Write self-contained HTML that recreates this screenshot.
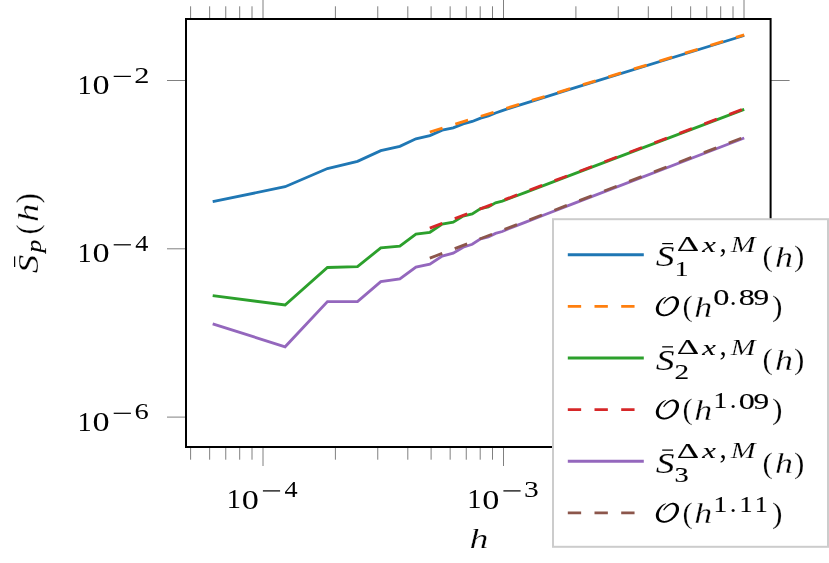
<!DOCTYPE html>
<html><head><meta charset="utf-8"><title>chart</title>
<style>
html,body{margin:0;padding:0;background:#fff;}
body{width:829px;height:563px;overflow:hidden;font-family:"Liberation Serif",serif;}
svg{display:block;will-change:transform;}
svg text{font-family:"Liberation Serif",serif;}
</style></head><body>
<svg width="829" height="563" viewBox="0 0 829 563">
<rect x="0" y="0" width="829" height="563" fill="#ffffff"/>
<path d="M190.60 19.0 V6.30 M190.60 447.0 V459.70 M209.65 19.0 V6.30 M209.65 447.0 V459.70 M225.75 19.0 V6.30 M225.75 447.0 V459.70 M239.69 19.0 V6.30 M239.69 447.0 V459.70 M252.00 19.0 V6.30 M252.00 447.0 V459.70 M263.00 19.0 V0.00 M263.00 447.0 V466.00 M335.40 19.0 V6.30 M335.40 447.0 V459.70 M377.75 19.0 V6.30 M377.75 447.0 V459.70 M407.80 19.0 V6.30 M407.80 447.0 V459.70 M431.10 19.0 V6.30 M431.10 447.0 V459.70 M450.15 19.0 V6.30 M450.15 447.0 V459.70 M466.25 19.0 V6.30 M466.25 447.0 V459.70 M480.19 19.0 V6.30 M480.19 447.0 V459.70 M492.50 19.0 V6.30 M492.50 447.0 V459.70 M503.50 19.0 V0.00 M503.50 447.0 V466.00 M575.90 19.0 V6.30 M575.90 447.0 V459.70 M618.25 19.0 V6.30 M618.25 447.0 V459.70 M648.30 19.0 V6.30 M648.30 447.0 V459.70 M671.60 19.0 V6.30 M671.60 447.0 V459.70 M690.65 19.0 V6.30 M690.65 447.0 V459.70 M706.75 19.0 V6.30 M706.75 447.0 V459.70 M720.69 19.0 V6.30 M720.69 447.0 V459.70 M733.00 19.0 V6.30 M733.00 447.0 V459.70 M744.00 19.0 V0.00 M744.00 447.0 V466.00 M186.0 80.50 H167.00 M770.6 80.50 H789.60 M186.0 248.80 H167.00 M770.6 248.80 H789.60 M186.0 417.10 H167.00 M770.6 417.10 H789.60" stroke="#808080" stroke-width="1" fill="none"/>
<path d="M212.70 201.60 L285.10 186.70 L327.45 168.50 L357.50 161.30 L380.80 150.70 L399.85 146.30 L415.95 138.80 L429.89 135.60 L442.20 130.20 L453.20 127.80 L463.15 123.90 L472.24 121.50 L480.60 118.10 L488.34 115.90 L495.55 112.98 L502.29 110.56 L514.59 106.58 L535.55 100.03 L567.95 89.98 L744.20 35.50" stroke="#1f77b4" stroke-width="2.85" fill="none" stroke-linejoin="miter" stroke-miterlimit="10"/>
<path d="M212.70 295.60 L285.10 305.00 L327.45 267.50 L357.50 266.60 L380.80 247.90 L399.85 246.20 L415.95 234.20 L429.89 232.30 L442.20 224.10 L453.20 222.20 L463.15 216.00 L472.24 213.90 L480.60 208.50 L488.34 207.00 L495.55 202.80 L502.29 201.20 L508.62 198.78 L514.59 196.51 L525.60 192.32 L544.64 185.09 L574.69 173.68 L744.20 109.30" stroke="#2ca02c" stroke-width="2.85" fill="none" stroke-linejoin="miter" stroke-miterlimit="10"/>
<path d="M212.70 323.80 L285.10 346.80 L327.45 301.60 L357.50 301.60 L380.80 281.60 L399.85 279.00 L415.95 267.00 L429.89 264.20 L442.20 256.00 L453.20 253.20 L463.15 247.20 L472.24 244.30 L480.60 238.90 L488.34 237.00 L495.55 233.40 L502.29 231.50 L508.62 228.79 L514.59 226.36 L525.60 222.06 L544.64 214.71 L574.69 203.15 L744.20 138.00" stroke="#9467bd" stroke-width="2.85" fill="none" stroke-linejoin="miter" stroke-miterlimit="10"/>
<path d="M429.8 132.0 L744.2 34.9" stroke="#ff7f0e" stroke-width="2.85" stroke-dasharray="13.35 13.35" fill="none"/>
<path d="M429.8 228.1 L744.2 108.7" stroke="#d62728" stroke-width="2.85" stroke-dasharray="13.35 13.35" fill="none"/>
<path d="M429.8 258.2 L744.2 137.1" stroke="#8c564b" stroke-width="2.85" stroke-dasharray="13.35 13.35" fill="none"/>
<rect x="186.0" y="19.0" width="584.6" height="428.0" fill="none" stroke="#000" stroke-width="2"/>
<text transform="matrix(0.2840 0 0 0.2727 77.503 93.900)" font-size="100" fill="#000">1</text><text transform="matrix(0.3421 0 0 0.2786 92.597 94.028)" font-size="100" fill="#000">0</text><path d="M113.70 76.40 h17.2" stroke="#000" stroke-width="1.25"/><text transform="matrix(0.3043 0 0 0.2235 134.363 82.500)" font-size="100" fill="#000">2</text>
<text transform="matrix(0.2840 0 0 0.2727 77.503 262.300)" font-size="100" fill="#000">1</text><text transform="matrix(0.3421 0 0 0.2786 92.597 262.428)" font-size="100" fill="#000">0</text><path d="M113.70 244.80 h17.2" stroke="#000" stroke-width="1.25"/><text transform="matrix(0.2625 0 0 0.2249 135.187 250.900)" font-size="100" fill="#000">4</text>
<text transform="matrix(0.2840 0 0 0.2727 77.503 430.800)" font-size="100" fill="#000">1</text><text transform="matrix(0.3421 0 0 0.2786 92.597 430.928)" font-size="100" fill="#000">0</text><path d="M113.70 413.30 h17.2" stroke="#000" stroke-width="1.25"/><text transform="matrix(0.2855 0 0 0.2203 134.473 419.185)" font-size="100" fill="#000">6</text>
<text transform="matrix(0.2840 0 0 0.2727 226.703 508.400)" font-size="100" fill="#000">1</text><text transform="matrix(0.3421 0 0 0.2786 241.797 508.528)" font-size="100" fill="#000">0</text><path d="M262.90 490.90 h17.2" stroke="#000" stroke-width="1.25"/><text transform="matrix(0.2625 0 0 0.2249 284.387 497.000)" font-size="100" fill="#000">4</text>
<text transform="matrix(0.2840 0 0 0.2727 467.203 508.400)" font-size="100" fill="#000">1</text><text transform="matrix(0.3421 0 0 0.2786 482.297 508.528)" font-size="100" fill="#000">0</text><path d="M503.40 490.90 h17.2" stroke="#000" stroke-width="1.25"/><text transform="matrix(0.2953 0 0 0.2203 523.987 496.785)" font-size="100" fill="#000">3</text>
<text transform="matrix(0.3788 0 0 0.2753 469.531 548.300)" font-size="100" font-style="italic" fill="#000" stroke="#fff" stroke-width="0.3" vector-effect="non-scaling-stroke">h</text>
<g transform="translate(0 273.2) rotate(-90)"><text transform="matrix(0.3706 0 0 0.2932 -0.034 37.714)" font-size="100" font-style="italic" fill="#000" stroke="#fff" stroke-width="0.2" vector-effect="non-scaling-stroke">S</text><path d="M6.2 14.6 h10.6" stroke="#000" stroke-width="1.25"/><text transform="matrix(0.2555 0 0 0.2134 20.697 41.456)" font-size="100" font-style="italic" fill="#000" stroke="#000" stroke-width="0.15" vector-effect="non-scaling-stroke">p</text><text transform="matrix(0.3115 0 0 0.3066 38.631 38.073)" font-size="100" fill="#000" stroke="#fff" stroke-width="0.25" vector-effect="non-scaling-stroke">(</text><text transform="matrix(0.3646 0 0 0.2868 51.083 38.000)" font-size="100" font-style="italic" fill="#000" stroke="#fff" stroke-width="0.3" vector-effect="non-scaling-stroke">h</text><text transform="matrix(0.3115 0 0 0.3066 69.796 38.073)" font-size="100" fill="#000" stroke="#fff" stroke-width="0.25" vector-effect="non-scaling-stroke">)</text></g>
<rect x="553.0" y="219.2" width="275.0" height="327.59999999999997" fill="#fff" stroke="#cccccc" stroke-width="2"/>
<path d="M567.8 254.7 H643.8" stroke="#1f77b4" stroke-width="2.85"/>
<path d="M662.2 243.60 H673.0" stroke="#000" stroke-width="1.25"/>
<text transform="matrix(0.3770 0 0 0.2977 655.858 266.309)" font-size="100" font-style="italic" fill="#000" stroke="#fff" stroke-width="0.2" vector-effect="non-scaling-stroke">S</text>
<text transform="matrix(0.2840 0 0 0.2121 674.403 275.800)" font-size="100" fill="#000" stroke="#000" stroke-width="0.05" vector-effect="non-scaling-stroke">1</text>
<text transform="matrix(0.3490 0 0 0.2196 676.671 251.200)" font-size="100" fill="#000" stroke="#000" stroke-width="0.12" vector-effect="non-scaling-stroke">Δ</text>
<text transform="matrix(0.3075 0 0 0.2004 702.275 251.700)" font-size="100" font-style="italic" fill="#000" stroke="#000" stroke-width="0.12" vector-effect="non-scaling-stroke">x</text>
<text transform="matrix(0.2887 0 0 0.2842 719.500 251.628)" font-size="100" fill="#000">,</text>
<text transform="matrix(0.2987 0 0 0.2276 730.750 251.900)" font-size="100" font-style="italic" fill="#000" stroke="#fff" stroke-width="0.2" vector-effect="non-scaling-stroke">M</text>
<text transform="matrix(0.3115 0 0 0.3033 762.531 266.243)" font-size="100" fill="#000" stroke="#fff" stroke-width="0.25" vector-effect="non-scaling-stroke">(</text>
<text transform="matrix(0.3599 0 0 0.2897 774.900 266.600)" font-size="100" font-style="italic" fill="#000" stroke="#fff" stroke-width="0.3" vector-effect="non-scaling-stroke">h</text>
<text transform="matrix(0.3115 0 0 0.3033 793.996 266.243)" font-size="100" fill="#000" stroke="#fff" stroke-width="0.25" vector-effect="non-scaling-stroke">)</text>
<path d="M567.8 357.95 H643.8" stroke="#2ca02c" stroke-width="2.85"/>
<path d="M662.2 346.85 H673.0" stroke="#000" stroke-width="1.25"/>
<text transform="matrix(0.3770 0 0 0.2977 655.858 369.559)" font-size="100" font-style="italic" fill="#000" stroke="#fff" stroke-width="0.2" vector-effect="non-scaling-stroke">S</text>
<text transform="matrix(0.2919 0 0 0.2130 674.517 379.250)" font-size="100" fill="#000" stroke="#000" stroke-width="0.15" vector-effect="non-scaling-stroke">2</text>
<text transform="matrix(0.3490 0 0 0.2196 676.671 354.450)" font-size="100" fill="#000" stroke="#000" stroke-width="0.12" vector-effect="non-scaling-stroke">Δ</text>
<text transform="matrix(0.3075 0 0 0.2004 702.275 354.950)" font-size="100" font-style="italic" fill="#000" stroke="#000" stroke-width="0.12" vector-effect="non-scaling-stroke">x</text>
<text transform="matrix(0.2887 0 0 0.2842 719.500 354.878)" font-size="100" fill="#000">,</text>
<text transform="matrix(0.2987 0 0 0.2276 730.750 355.150)" font-size="100" font-style="italic" fill="#000" stroke="#fff" stroke-width="0.2" vector-effect="non-scaling-stroke">M</text>
<text transform="matrix(0.3115 0 0 0.3033 762.531 369.493)" font-size="100" fill="#000" stroke="#fff" stroke-width="0.25" vector-effect="non-scaling-stroke">(</text>
<text transform="matrix(0.3599 0 0 0.2897 774.900 369.850)" font-size="100" font-style="italic" fill="#000" stroke="#fff" stroke-width="0.3" vector-effect="non-scaling-stroke">h</text>
<text transform="matrix(0.3115 0 0 0.3033 793.996 369.493)" font-size="100" fill="#000" stroke="#fff" stroke-width="0.25" vector-effect="non-scaling-stroke">)</text>
<path d="M567.8 461.2 H643.8" stroke="#9467bd" stroke-width="2.85"/>
<path d="M662.2 450.10 H673.0" stroke="#000" stroke-width="1.25"/>
<text transform="matrix(0.3770 0 0 0.2977 655.858 472.809)" font-size="100" font-style="italic" fill="#000" stroke="#fff" stroke-width="0.2" vector-effect="non-scaling-stroke">S</text>
<text transform="matrix(0.2832 0 0 0.2099 674.445 482.295)" font-size="100" fill="#000" stroke="#000" stroke-width="0.15" vector-effect="non-scaling-stroke">3</text>
<text transform="matrix(0.3490 0 0 0.2196 676.671 457.700)" font-size="100" fill="#000" stroke="#000" stroke-width="0.12" vector-effect="non-scaling-stroke">Δ</text>
<text transform="matrix(0.3075 0 0 0.2004 702.275 458.200)" font-size="100" font-style="italic" fill="#000" stroke="#000" stroke-width="0.12" vector-effect="non-scaling-stroke">x</text>
<text transform="matrix(0.2887 0 0 0.2842 719.500 458.128)" font-size="100" fill="#000">,</text>
<text transform="matrix(0.2987 0 0 0.2276 730.750 458.400)" font-size="100" font-style="italic" fill="#000" stroke="#fff" stroke-width="0.2" vector-effect="non-scaling-stroke">M</text>
<text transform="matrix(0.3115 0 0 0.3033 762.531 472.743)" font-size="100" fill="#000" stroke="#fff" stroke-width="0.25" vector-effect="non-scaling-stroke">(</text>
<text transform="matrix(0.3599 0 0 0.2897 774.900 473.100)" font-size="100" font-style="italic" fill="#000" stroke="#fff" stroke-width="0.3" vector-effect="non-scaling-stroke">h</text>
<text transform="matrix(0.3115 0 0 0.3033 793.996 472.743)" font-size="100" fill="#000" stroke="#fff" stroke-width="0.25" vector-effect="non-scaling-stroke">)</text>
<path d="M567.8 306.3 H643.8" stroke="#ff7f0e" stroke-width="2.85" stroke-dasharray="13.35 13.35"/>
<path d="M664.10 303.97 L664.25 303.79 L664.40 303.60 L664.54 303.41 L664.68 303.23 L664.82 303.05 L664.96 302.87 L665.10 302.69 L665.24 302.52 L665.38 302.35 L665.53 302.17 L665.69 302.00 L665.86 301.82 L666.04 301.63 L666.23 301.44 L666.42 301.24 L666.61 301.04 L666.81 300.84 L667.02 300.64 L667.23 300.45 L667.44 300.26 L667.65 300.07 L667.87 299.90 L668.10 299.73 L668.33 299.57 L668.57 299.40 L668.83 299.23 L669.09 299.07 L669.36 298.90 L669.63 298.74 L669.91 298.59 L670.18 298.45 L670.45 298.32 L670.72 298.21 L670.98 298.11 L671.23 298.04 L671.47 297.98 L671.72 297.97 L671.97 297.98 L672.23 298.00 L672.49 298.03 L672.74 298.08 L673.00 298.14 L673.24 298.20 L673.48 298.28 L673.70 298.37 L673.91 298.47 L674.10 298.57 L674.27 298.68 L674.43 298.80 L674.59 298.93 L674.74 299.07 L674.88 299.22 L675.02 299.38 L675.15 299.54 L675.26 299.71 L675.37 299.88 L675.46 300.05 L675.53 300.22 L675.59 300.39 L675.63 300.56 L675.69 300.72 L675.74 300.90 L675.78 301.11 L675.82 301.33 L675.85 301.57 L675.87 301.82 L675.88 302.08 L675.88 302.35 L675.87 302.61 L675.85 302.88 L675.82 303.15 L675.78 303.41 L675.76 303.67 L675.72 303.94 L675.67 304.22 L675.60 304.51 L675.53 304.81 L675.44 305.11 L675.34 305.42 L675.23 305.73 L675.11 306.04 L674.98 306.35 L674.84 306.66 L674.70 306.96 L674.55 307.27 L674.39 307.58 L674.23 307.89 L674.05 308.20 L673.86 308.51 L673.66 308.82 L673.46 309.12 L673.24 309.43 L673.02 309.72 L672.79 310.01 L672.56 310.30 L672.32 310.57 L672.05 310.84 L671.78 311.10 L671.49 311.37 L671.19 311.62 L670.89 311.88 L670.57 312.13 L670.26 312.36 L669.94 312.59 L669.62 312.81 L669.30 313.01 L668.99 313.20 L668.67 313.37 L668.35 313.52 L668.03 313.66 L667.70 313.79 L667.37 313.91 L667.04 314.02 L666.71 314.12 L666.38 314.20 L666.05 314.27 L665.73 314.33 L665.40 314.37 L665.08 314.41 L664.76 314.42 L664.44 314.41 L664.11 314.38 L663.77 314.33 L663.43 314.28 L663.08 314.21 L662.75 314.13 L662.42 314.04 L662.10 313.93 L661.80 313.82 L661.52 313.70 L661.26 313.58 L661.03 313.45 L660.82 313.31 L660.62 313.15 L660.43 312.99 L660.25 312.82 L660.08 312.64 L659.93 312.45 L659.78 312.26 L659.65 312.06 L659.53 311.86 L659.42 311.65 L659.33 311.44 L659.25 311.24 L659.16 311.05 L659.09 310.84 L659.02 310.62 L658.96 310.39 L658.92 310.15 L658.88 309.89 L658.85 309.64 L658.83 309.37 L658.82 309.10 L658.82 308.84 L658.83 308.57 L658.85 308.31 L658.85 308.05 L658.86 307.78 L658.89 307.49 L658.92 307.20 L658.97 306.91 L659.03 306.60 L659.11 306.29 L659.19 305.98 L659.28 305.67 L659.38 305.36 L659.49 305.05 L659.61 304.74 L659.73 304.44 L659.86 304.13 L660.01 303.81 L660.18 303.49 L660.36 303.16 L660.54 302.83 L660.73 302.51 L660.93 302.20 L661.13 301.89 L661.32 301.59 L661.52 301.31 L661.70 301.04 L661.88 300.79 L662.06 300.56 L662.25 300.33 L662.43 300.11 L662.62 299.90 L662.81 299.70 L663.00 299.51 L663.19 299.32 L663.37 299.14 L663.56 298.97 L663.75 298.80 L663.93 298.64 L664.10 298.49 L664.27 298.36 L664.44 298.25 L664.61 298.14 L664.78 298.03 L664.96 297.93 L665.13 297.83 L665.31 297.74 L665.48 297.64 L665.67 297.54 L665.85 297.43 L666.03 297.32 L665.82 296.89 L665.63 296.96 L665.44 297.03 L665.25 297.09 L665.06 297.15 L664.86 297.21 L664.66 297.28 L664.46 297.35 L664.26 297.42 L664.04 297.51 L663.83 297.61 L663.61 297.72 L663.38 297.85 L663.16 297.98 L662.93 298.11 L662.70 298.26 L662.46 298.41 L662.22 298.57 L661.98 298.74 L661.73 298.92 L661.49 299.11 L661.24 299.31 L660.99 299.53 L660.74 299.76 L660.49 300.00 L660.24 300.24 L659.98 300.50 L659.72 300.78 L659.45 301.07 L659.19 301.37 L658.92 301.68 L658.66 302.00 L658.40 302.33 L658.15 302.66 L657.91 303.00 L657.68 303.34 L657.47 303.68 L657.28 304.03 L657.09 304.37 L656.92 304.72 L656.75 305.08 L656.60 305.44 L656.45 305.80 L656.31 306.17 L656.19 306.55 L656.08 306.93 L655.98 307.31 L655.90 307.69 L655.84 308.08 L655.82 308.46 L655.82 308.84 L655.84 309.22 L655.86 309.60 L655.91 309.98 L655.97 310.36 L656.04 310.74 L656.14 311.11 L656.25 311.48 L656.37 311.84 L656.52 312.19 L656.69 312.53 L656.89 312.85 L657.11 313.15 L657.34 313.44 L657.58 313.72 L657.84 313.98 L658.11 314.24 L658.40 314.48 L658.70 314.70 L659.02 314.91 L659.34 315.11 L659.68 315.29 L660.03 315.44 L660.39 315.59 L660.76 315.72 L661.15 315.83 L661.55 315.93 L661.95 316.01 L662.36 316.08 L662.77 316.13 L663.19 316.17 L663.60 316.20 L664.02 316.21 L664.42 316.20 L664.82 316.17 L665.21 316.15 L665.61 316.11 L666.00 316.06 L666.39 315.99 L666.78 315.90 L667.17 315.81 L667.56 315.69 L667.94 315.57 L668.32 315.43 L668.70 315.28 L669.07 315.12 L669.44 314.95 L669.81 314.77 L670.19 314.58 L670.57 314.37 L670.95 314.15 L671.32 313.92 L671.69 313.67 L672.06 313.42 L672.41 313.16 L672.76 312.89 L673.10 312.62 L673.43 312.35 L673.75 312.07 L674.07 311.79 L674.39 311.50 L674.69 311.20 L674.99 310.90 L675.28 310.58 L675.56 310.27 L675.83 309.94 L676.10 309.62 L676.35 309.29 L676.60 308.96 L676.83 308.62 L677.06 308.29 L677.27 307.95 L677.47 307.60 L677.66 307.25 L677.85 306.89 L678.03 306.52 L678.19 306.16 L678.35 305.78 L678.49 305.41 L678.62 305.03 L678.74 304.65 L678.84 304.26 L678.93 303.88 L678.97 303.49 L679.00 303.11 L679.01 302.72 L679.01 302.33 L679.00 301.94 L678.97 301.56 L678.92 301.18 L678.85 300.80 L678.77 300.42 L678.67 300.06 L678.55 299.69 L678.40 299.34 L678.21 299.02 L677.99 298.71 L677.76 298.42 L677.52 298.15 L677.26 297.90 L676.99 297.67 L676.71 297.46 L676.42 297.26 L676.13 297.08 L675.83 296.93 L675.52 296.79 L675.21 296.67 L674.89 296.56 L674.57 296.48 L674.23 296.42 L673.90 296.37 L673.56 296.33 L673.21 296.32 L672.87 296.32 L672.53 296.34 L672.19 296.37 L671.85 296.42 L671.52 296.49 L671.19 296.57 L670.86 296.65 L670.52 296.75 L670.19 296.87 L669.87 297.01 L669.55 297.16 L669.23 297.32 L668.92 297.49 L668.62 297.67 L668.33 297.85 L668.05 298.03 L667.77 298.21 L667.51 298.39 L667.25 298.58 L666.99 298.79 L666.74 298.99 L666.50 299.21 L666.27 299.42 L666.05 299.64 L665.83 299.86 L665.62 300.08 L665.42 300.29 L665.23 300.51 L665.04 300.71 L664.86 300.92 L664.68 301.13 L664.52 301.34 L664.36 301.55 L664.22 301.75 L664.08 301.96 L663.95 302.16 L663.82 302.35 L663.70 302.55 L663.58 302.74 L663.46 302.93 L663.33 303.12 L663.21 303.31Z" fill="#000"/>
<text transform="matrix(0.3076 0 0 0.3011 682.548 316.090)" font-size="100" fill="#000" stroke="#fff" stroke-width="0.25" vector-effect="non-scaling-stroke">(</text>
<text transform="matrix(0.3599 0 0 0.2911 694.300 316.500)" font-size="100" font-style="italic" fill="#000" stroke="#fff" stroke-width="0.3" vector-effect="non-scaling-stroke">h</text>
<text transform="matrix(0.3232 0 0 0.2297 713.369 305.276)" font-size="100" fill="#000" stroke="#000" stroke-width="0.15" vector-effect="non-scaling-stroke">0</text>
<text transform="matrix(0.3209 0 0 0.2297 738.778 305.276)" font-size="100" fill="#000" stroke="#000" stroke-width="0.15" vector-effect="non-scaling-stroke">8</text>
<text transform="matrix(0.3140 0 0 0.2307 753.388 305.275)" font-size="100" fill="#000" stroke="#000" stroke-width="0.15" vector-effect="non-scaling-stroke">9</text>
<text transform="matrix(0.2708 0 0 0.2623 729.815 305.029)" font-size="100" fill="#000">.</text>
<text transform="matrix(0.3154 0 0 0.3011 771.884 316.090)" font-size="100" fill="#000" stroke="#fff" stroke-width="0.25" vector-effect="non-scaling-stroke">)</text>
<path d="M567.8 409.55 H643.8" stroke="#d62728" stroke-width="2.85" stroke-dasharray="13.35 13.35"/>
<path d="M664.10 407.22 L664.25 407.04 L664.40 406.85 L664.54 406.66 L664.68 406.48 L664.82 406.30 L664.96 406.12 L665.10 405.94 L665.24 405.77 L665.38 405.60 L665.53 405.42 L665.69 405.25 L665.86 405.07 L666.04 404.88 L666.23 404.69 L666.42 404.49 L666.61 404.29 L666.81 404.09 L667.02 403.89 L667.23 403.70 L667.44 403.51 L667.65 403.32 L667.87 403.15 L668.10 402.98 L668.33 402.82 L668.57 402.65 L668.83 402.48 L669.09 402.32 L669.36 402.15 L669.63 401.99 L669.91 401.84 L670.18 401.70 L670.45 401.57 L670.72 401.46 L670.98 401.36 L671.23 401.29 L671.47 401.23 L671.72 401.22 L671.97 401.23 L672.23 401.25 L672.49 401.28 L672.74 401.33 L673.00 401.39 L673.24 401.45 L673.48 401.53 L673.70 401.62 L673.91 401.72 L674.10 401.82 L674.27 401.93 L674.43 402.05 L674.59 402.18 L674.74 402.32 L674.88 402.47 L675.02 402.63 L675.15 402.79 L675.26 402.96 L675.37 403.13 L675.46 403.30 L675.53 403.47 L675.59 403.64 L675.63 403.81 L675.69 403.97 L675.74 404.15 L675.78 404.36 L675.82 404.58 L675.85 404.82 L675.87 405.07 L675.88 405.33 L675.88 405.60 L675.87 405.86 L675.85 406.13 L675.82 406.40 L675.78 406.66 L675.76 406.92 L675.72 407.19 L675.67 407.47 L675.60 407.76 L675.53 408.06 L675.44 408.36 L675.34 408.67 L675.23 408.98 L675.11 409.29 L674.98 409.60 L674.84 409.91 L674.70 410.21 L674.55 410.52 L674.39 410.83 L674.23 411.14 L674.05 411.45 L673.86 411.76 L673.66 412.07 L673.46 412.37 L673.24 412.68 L673.02 412.97 L672.79 413.26 L672.56 413.55 L672.32 413.82 L672.05 414.09 L671.78 414.35 L671.49 414.62 L671.19 414.87 L670.89 415.13 L670.57 415.38 L670.26 415.61 L669.94 415.84 L669.62 416.06 L669.30 416.26 L668.99 416.45 L668.67 416.62 L668.35 416.77 L668.03 416.91 L667.70 417.04 L667.37 417.16 L667.04 417.27 L666.71 417.37 L666.38 417.45 L666.05 417.52 L665.73 417.58 L665.40 417.62 L665.08 417.66 L664.76 417.67 L664.44 417.66 L664.11 417.63 L663.77 417.58 L663.43 417.53 L663.08 417.46 L662.75 417.38 L662.42 417.29 L662.10 417.18 L661.80 417.07 L661.52 416.95 L661.26 416.83 L661.03 416.70 L660.82 416.56 L660.62 416.40 L660.43 416.24 L660.25 416.07 L660.08 415.89 L659.93 415.70 L659.78 415.51 L659.65 415.31 L659.53 415.11 L659.42 414.90 L659.33 414.69 L659.25 414.49 L659.16 414.30 L659.09 414.09 L659.02 413.87 L658.96 413.64 L658.92 413.40 L658.88 413.14 L658.85 412.89 L658.83 412.62 L658.82 412.35 L658.82 412.09 L658.83 411.82 L658.85 411.56 L658.85 411.30 L658.86 411.03 L658.89 410.74 L658.92 410.45 L658.97 410.16 L659.03 409.85 L659.11 409.54 L659.19 409.23 L659.28 408.92 L659.38 408.61 L659.49 408.30 L659.61 407.99 L659.73 407.69 L659.86 407.38 L660.01 407.06 L660.18 406.74 L660.36 406.41 L660.54 406.08 L660.73 405.76 L660.93 405.45 L661.13 405.14 L661.32 404.84 L661.52 404.56 L661.70 404.29 L661.88 404.04 L662.06 403.81 L662.25 403.58 L662.43 403.36 L662.62 403.15 L662.81 402.95 L663.00 402.76 L663.19 402.57 L663.37 402.39 L663.56 402.22 L663.75 402.05 L663.93 401.89 L664.10 401.74 L664.27 401.61 L664.44 401.50 L664.61 401.39 L664.78 401.28 L664.96 401.18 L665.13 401.08 L665.31 400.99 L665.48 400.89 L665.67 400.79 L665.85 400.68 L666.03 400.57 L665.82 400.14 L665.63 400.21 L665.44 400.28 L665.25 400.34 L665.06 400.40 L664.86 400.46 L664.66 400.53 L664.46 400.60 L664.26 400.67 L664.04 400.76 L663.83 400.86 L663.61 400.97 L663.38 401.10 L663.16 401.23 L662.93 401.36 L662.70 401.51 L662.46 401.66 L662.22 401.82 L661.98 401.99 L661.73 402.17 L661.49 402.36 L661.24 402.56 L660.99 402.78 L660.74 403.01 L660.49 403.25 L660.24 403.49 L659.98 403.75 L659.72 404.03 L659.45 404.32 L659.19 404.62 L658.92 404.93 L658.66 405.25 L658.40 405.58 L658.15 405.91 L657.91 406.25 L657.68 406.59 L657.47 406.93 L657.28 407.28 L657.09 407.62 L656.92 407.97 L656.75 408.33 L656.60 408.69 L656.45 409.05 L656.31 409.42 L656.19 409.80 L656.08 410.18 L655.98 410.56 L655.90 410.94 L655.84 411.33 L655.82 411.71 L655.82 412.09 L655.84 412.47 L655.86 412.85 L655.91 413.23 L655.97 413.61 L656.04 413.99 L656.14 414.36 L656.25 414.73 L656.37 415.09 L656.52 415.44 L656.69 415.78 L656.89 416.10 L657.11 416.40 L657.34 416.69 L657.58 416.97 L657.84 417.23 L658.11 417.49 L658.40 417.73 L658.70 417.95 L659.02 418.16 L659.34 418.36 L659.68 418.54 L660.03 418.69 L660.39 418.84 L660.76 418.97 L661.15 419.08 L661.55 419.18 L661.95 419.26 L662.36 419.33 L662.77 419.38 L663.19 419.42 L663.60 419.45 L664.02 419.46 L664.42 419.45 L664.82 419.42 L665.21 419.40 L665.61 419.36 L666.00 419.31 L666.39 419.24 L666.78 419.15 L667.17 419.06 L667.56 418.94 L667.94 418.82 L668.32 418.68 L668.70 418.53 L669.07 418.37 L669.44 418.20 L669.81 418.02 L670.19 417.83 L670.57 417.62 L670.95 417.40 L671.32 417.17 L671.69 416.92 L672.06 416.67 L672.41 416.41 L672.76 416.14 L673.10 415.87 L673.43 415.60 L673.75 415.32 L674.07 415.04 L674.39 414.75 L674.69 414.45 L674.99 414.15 L675.28 413.83 L675.56 413.52 L675.83 413.19 L676.10 412.87 L676.35 412.54 L676.60 412.21 L676.83 411.87 L677.06 411.54 L677.27 411.20 L677.47 410.85 L677.66 410.50 L677.85 410.14 L678.03 409.77 L678.19 409.41 L678.35 409.03 L678.49 408.66 L678.62 408.28 L678.74 407.90 L678.84 407.51 L678.93 407.13 L678.97 406.74 L679.00 406.36 L679.01 405.97 L679.01 405.58 L679.00 405.19 L678.97 404.81 L678.92 404.43 L678.85 404.05 L678.77 403.67 L678.67 403.31 L678.55 402.94 L678.40 402.59 L678.21 402.27 L677.99 401.96 L677.76 401.67 L677.52 401.40 L677.26 401.15 L676.99 400.92 L676.71 400.71 L676.42 400.51 L676.13 400.33 L675.83 400.18 L675.52 400.04 L675.21 399.92 L674.89 399.81 L674.57 399.73 L674.23 399.67 L673.90 399.62 L673.56 399.58 L673.21 399.57 L672.87 399.57 L672.53 399.59 L672.19 399.62 L671.85 399.67 L671.52 399.74 L671.19 399.82 L670.86 399.90 L670.52 400.00 L670.19 400.12 L669.87 400.26 L669.55 400.41 L669.23 400.57 L668.92 400.74 L668.62 400.92 L668.33 401.10 L668.05 401.28 L667.77 401.46 L667.51 401.64 L667.25 401.83 L666.99 402.04 L666.74 402.24 L666.50 402.46 L666.27 402.67 L666.05 402.89 L665.83 403.11 L665.62 403.33 L665.42 403.54 L665.23 403.76 L665.04 403.96 L664.86 404.17 L664.68 404.38 L664.52 404.59 L664.36 404.80 L664.22 405.00 L664.08 405.21 L663.95 405.41 L663.82 405.60 L663.70 405.80 L663.58 405.99 L663.46 406.18 L663.33 406.37 L663.21 406.56Z" fill="#000"/>
<text transform="matrix(0.3076 0 0 0.3011 682.548 419.340)" font-size="100" fill="#000" stroke="#fff" stroke-width="0.25" vector-effect="non-scaling-stroke">(</text>
<text transform="matrix(0.3599 0 0 0.2911 694.300 419.750)" font-size="100" font-style="italic" fill="#000" stroke="#fff" stroke-width="0.3" vector-effect="non-scaling-stroke">h</text>
<text transform="matrix(0.2755 0 0 0.2302 713.478 408.450)" font-size="100" fill="#000" stroke="#000" stroke-width="0.15" vector-effect="non-scaling-stroke">1</text>
<text transform="matrix(0.3209 0 0 0.2297 738.778 408.526)" font-size="100" fill="#000" stroke="#000" stroke-width="0.15" vector-effect="non-scaling-stroke">0</text>
<text transform="matrix(0.3140 0 0 0.2307 753.388 408.525)" font-size="100" fill="#000" stroke="#000" stroke-width="0.15" vector-effect="non-scaling-stroke">9</text>
<text transform="matrix(0.2708 0 0 0.2623 729.815 408.279)" font-size="100" fill="#000">.</text>
<text transform="matrix(0.3154 0 0 0.3011 771.884 419.340)" font-size="100" fill="#000" stroke="#fff" stroke-width="0.25" vector-effect="non-scaling-stroke">)</text>
<path d="M567.8 512.8 H643.8" stroke="#8c564b" stroke-width="2.85" stroke-dasharray="13.35 13.35"/>
<path d="M664.10 510.47 L664.25 510.29 L664.40 510.10 L664.54 509.91 L664.68 509.73 L664.82 509.55 L664.96 509.37 L665.10 509.19 L665.24 509.02 L665.38 508.85 L665.53 508.67 L665.69 508.50 L665.86 508.32 L666.04 508.13 L666.23 507.94 L666.42 507.74 L666.61 507.54 L666.81 507.34 L667.02 507.14 L667.23 506.95 L667.44 506.76 L667.65 506.57 L667.87 506.40 L668.10 506.23 L668.33 506.07 L668.57 505.90 L668.83 505.73 L669.09 505.57 L669.36 505.40 L669.63 505.24 L669.91 505.09 L670.18 504.95 L670.45 504.82 L670.72 504.71 L670.98 504.61 L671.23 504.54 L671.47 504.48 L671.72 504.47 L671.97 504.48 L672.23 504.50 L672.49 504.53 L672.74 504.58 L673.00 504.64 L673.24 504.70 L673.48 504.78 L673.70 504.87 L673.91 504.97 L674.10 505.07 L674.27 505.18 L674.43 505.30 L674.59 505.43 L674.74 505.57 L674.88 505.72 L675.02 505.88 L675.15 506.04 L675.26 506.21 L675.37 506.38 L675.46 506.55 L675.53 506.72 L675.59 506.89 L675.63 507.06 L675.69 507.22 L675.74 507.40 L675.78 507.61 L675.82 507.83 L675.85 508.07 L675.87 508.32 L675.88 508.58 L675.88 508.85 L675.87 509.11 L675.85 509.38 L675.82 509.65 L675.78 509.91 L675.76 510.17 L675.72 510.44 L675.67 510.72 L675.60 511.01 L675.53 511.31 L675.44 511.61 L675.34 511.92 L675.23 512.23 L675.11 512.54 L674.98 512.85 L674.84 513.16 L674.70 513.46 L674.55 513.77 L674.39 514.08 L674.23 514.39 L674.05 514.70 L673.86 515.01 L673.66 515.32 L673.46 515.62 L673.24 515.93 L673.02 516.22 L672.79 516.51 L672.56 516.80 L672.32 517.07 L672.05 517.34 L671.78 517.60 L671.49 517.87 L671.19 518.12 L670.89 518.38 L670.57 518.63 L670.26 518.86 L669.94 519.09 L669.62 519.31 L669.30 519.51 L668.99 519.70 L668.67 519.87 L668.35 520.02 L668.03 520.16 L667.70 520.29 L667.37 520.41 L667.04 520.52 L666.71 520.62 L666.38 520.70 L666.05 520.77 L665.73 520.83 L665.40 520.87 L665.08 520.91 L664.76 520.92 L664.44 520.91 L664.11 520.88 L663.77 520.83 L663.43 520.78 L663.08 520.71 L662.75 520.63 L662.42 520.54 L662.10 520.43 L661.80 520.32 L661.52 520.20 L661.26 520.08 L661.03 519.95 L660.82 519.81 L660.62 519.65 L660.43 519.49 L660.25 519.32 L660.08 519.14 L659.93 518.95 L659.78 518.76 L659.65 518.56 L659.53 518.36 L659.42 518.15 L659.33 517.94 L659.25 517.74 L659.16 517.55 L659.09 517.34 L659.02 517.12 L658.96 516.89 L658.92 516.65 L658.88 516.39 L658.85 516.14 L658.83 515.87 L658.82 515.60 L658.82 515.34 L658.83 515.07 L658.85 514.81 L658.85 514.55 L658.86 514.28 L658.89 513.99 L658.92 513.70 L658.97 513.41 L659.03 513.10 L659.11 512.79 L659.19 512.48 L659.28 512.17 L659.38 511.86 L659.49 511.55 L659.61 511.24 L659.73 510.94 L659.86 510.63 L660.01 510.31 L660.18 509.99 L660.36 509.66 L660.54 509.33 L660.73 509.01 L660.93 508.70 L661.13 508.39 L661.32 508.09 L661.52 507.81 L661.70 507.54 L661.88 507.29 L662.06 507.06 L662.25 506.83 L662.43 506.61 L662.62 506.40 L662.81 506.20 L663.00 506.01 L663.19 505.82 L663.37 505.64 L663.56 505.47 L663.75 505.30 L663.93 505.14 L664.10 504.99 L664.27 504.86 L664.44 504.75 L664.61 504.64 L664.78 504.53 L664.96 504.43 L665.13 504.33 L665.31 504.24 L665.48 504.14 L665.67 504.04 L665.85 503.93 L666.03 503.82 L665.82 503.39 L665.63 503.46 L665.44 503.53 L665.25 503.59 L665.06 503.65 L664.86 503.71 L664.66 503.78 L664.46 503.85 L664.26 503.92 L664.04 504.01 L663.83 504.11 L663.61 504.22 L663.38 504.35 L663.16 504.48 L662.93 504.61 L662.70 504.76 L662.46 504.91 L662.22 505.07 L661.98 505.24 L661.73 505.42 L661.49 505.61 L661.24 505.81 L660.99 506.03 L660.74 506.26 L660.49 506.50 L660.24 506.74 L659.98 507.00 L659.72 507.28 L659.45 507.57 L659.19 507.87 L658.92 508.18 L658.66 508.50 L658.40 508.83 L658.15 509.16 L657.91 509.50 L657.68 509.84 L657.47 510.18 L657.28 510.53 L657.09 510.87 L656.92 511.22 L656.75 511.58 L656.60 511.94 L656.45 512.30 L656.31 512.67 L656.19 513.05 L656.08 513.43 L655.98 513.81 L655.90 514.19 L655.84 514.58 L655.82 514.96 L655.82 515.34 L655.84 515.72 L655.86 516.10 L655.91 516.48 L655.97 516.86 L656.04 517.24 L656.14 517.61 L656.25 517.98 L656.37 518.34 L656.52 518.69 L656.69 519.03 L656.89 519.35 L657.11 519.65 L657.34 519.94 L657.58 520.22 L657.84 520.48 L658.11 520.74 L658.40 520.98 L658.70 521.20 L659.02 521.41 L659.34 521.61 L659.68 521.79 L660.03 521.94 L660.39 522.09 L660.76 522.22 L661.15 522.33 L661.55 522.43 L661.95 522.51 L662.36 522.58 L662.77 522.63 L663.19 522.67 L663.60 522.70 L664.02 522.71 L664.42 522.70 L664.82 522.67 L665.21 522.65 L665.61 522.61 L666.00 522.56 L666.39 522.49 L666.78 522.40 L667.17 522.31 L667.56 522.19 L667.94 522.07 L668.32 521.93 L668.70 521.78 L669.07 521.62 L669.44 521.45 L669.81 521.27 L670.19 521.08 L670.57 520.87 L670.95 520.65 L671.32 520.42 L671.69 520.17 L672.06 519.92 L672.41 519.66 L672.76 519.39 L673.10 519.12 L673.43 518.85 L673.75 518.57 L674.07 518.29 L674.39 518.00 L674.69 517.70 L674.99 517.40 L675.28 517.08 L675.56 516.77 L675.83 516.44 L676.10 516.12 L676.35 515.79 L676.60 515.46 L676.83 515.12 L677.06 514.79 L677.27 514.45 L677.47 514.10 L677.66 513.75 L677.85 513.39 L678.03 513.02 L678.19 512.66 L678.35 512.28 L678.49 511.91 L678.62 511.53 L678.74 511.15 L678.84 510.76 L678.93 510.38 L678.97 509.99 L679.00 509.61 L679.01 509.22 L679.01 508.83 L679.00 508.44 L678.97 508.06 L678.92 507.68 L678.85 507.30 L678.77 506.92 L678.67 506.56 L678.55 506.19 L678.40 505.84 L678.21 505.52 L677.99 505.21 L677.76 504.92 L677.52 504.65 L677.26 504.40 L676.99 504.17 L676.71 503.96 L676.42 503.76 L676.13 503.58 L675.83 503.43 L675.52 503.29 L675.21 503.17 L674.89 503.06 L674.57 502.98 L674.23 502.92 L673.90 502.87 L673.56 502.83 L673.21 502.82 L672.87 502.82 L672.53 502.84 L672.19 502.87 L671.85 502.92 L671.52 502.99 L671.19 503.07 L670.86 503.15 L670.52 503.25 L670.19 503.37 L669.87 503.51 L669.55 503.66 L669.23 503.82 L668.92 503.99 L668.62 504.17 L668.33 504.35 L668.05 504.53 L667.77 504.71 L667.51 504.89 L667.25 505.08 L666.99 505.29 L666.74 505.49 L666.50 505.71 L666.27 505.92 L666.05 506.14 L665.83 506.36 L665.62 506.58 L665.42 506.79 L665.23 507.01 L665.04 507.21 L664.86 507.42 L664.68 507.63 L664.52 507.84 L664.36 508.05 L664.22 508.25 L664.08 508.46 L663.95 508.66 L663.82 508.85 L663.70 509.05 L663.58 509.24 L663.46 509.43 L663.33 509.62 L663.21 509.81Z" fill="#000"/>
<text transform="matrix(0.3076 0 0 0.3011 682.548 522.590)" font-size="100" fill="#000" stroke="#fff" stroke-width="0.25" vector-effect="non-scaling-stroke">(</text>
<text transform="matrix(0.3599 0 0 0.2911 694.300 523.000)" font-size="100" font-style="italic" fill="#000" stroke="#fff" stroke-width="0.3" vector-effect="non-scaling-stroke">h</text>
<text transform="matrix(0.2755 0 0 0.2302 713.478 511.700)" font-size="100" fill="#000" stroke="#000" stroke-width="0.15" vector-effect="non-scaling-stroke">1</text>
<text transform="matrix(0.2613 0 0 0.2302 739.603 511.700)" font-size="100" fill="#000" stroke="#000" stroke-width="0.15" vector-effect="non-scaling-stroke">1</text>
<text transform="matrix(0.2585 0 0 0.2302 754.628 511.700)" font-size="100" fill="#000" stroke="#000" stroke-width="0.15" vector-effect="non-scaling-stroke">1</text>
<text transform="matrix(0.2708 0 0 0.2623 729.815 511.529)" font-size="100" fill="#000">.</text>
<text transform="matrix(0.3154 0 0 0.3011 771.884 522.590)" font-size="100" fill="#000" stroke="#fff" stroke-width="0.25" vector-effect="non-scaling-stroke">)</text>
</svg>
</body></html>
